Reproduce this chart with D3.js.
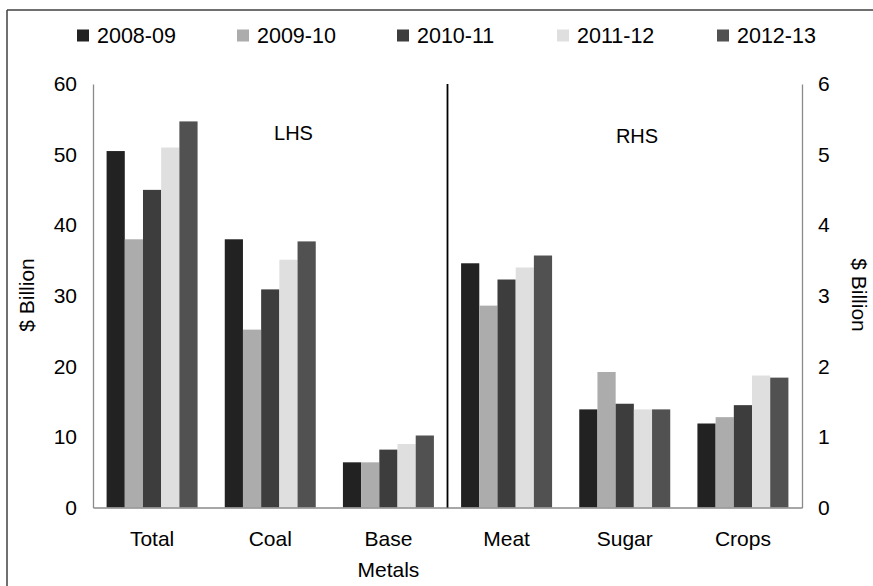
<!DOCTYPE html>
<html>
<head>
<meta charset="utf-8">
<script src="https://cdn.jsdelivr.net/npm/d3@7"></script>
<style>
  html, body { margin: 0; padding: 0; background: #fff; }
  svg { display: block; font-family: "Liberation Sans", Arial, sans-serif; }
</style>
</head>
<body>
<svg id="chart" width="873" height="586"></svg>
<script>
// ---- data ----
const leftCategories = ["Total", "Coal", "Base Metals"];
const rightCategories = ["Meat", "Sugar", "Crops"];
const seriesNames = ["2008-09", "2009-10", "2010-11", "2011-12", "2012-13"];
const seriesColors = ["#222222", "#acacac", "#3d3d3d", "#dfdfdf", "#515151"];
// LHS values ($ billion), per series, for Total, Coal, Base Metals
const lhs2008 = [50.5, 38.0, 6.4];
const lhs2009 = [38.0, 25.2, 6.4];
const lhs2010 = [45.0, 30.9, 8.2];
const lhs2011 = [51.0, 35.1, 9.0];
const lhs2012 = [54.7, 37.7, 10.2];
// RHS values ($ billion), per series, for Meat, Sugar, Crops
const rhs2008 = [3.46, 1.39, 1.19];
const rhs2009 = [2.86, 1.92, 1.28];
const rhs2010 = [3.23, 1.47, 1.45];
const rhs2011 = [3.40, 1.39, 1.87];
const rhs2012 = [3.57, 1.39, 1.84];
const leftTicks = [0, 10, 20, 30, 40, 50, 60];
const rightTicks = [0, 1, 2, 3, 4, 5, 6];

const lhsSeries = [lhs2008, lhs2009, lhs2010, lhs2011, lhs2012];
const rhsSeries = [rhs2008, rhs2009, rhs2010, rhs2011, rhs2012];

// ---- layout ----
const svg = d3.select("#chart");
const plotLeft = 93, plotRight = 802, plotTop = 84, plotBottom = 507.5;
const fontSize = 21;

const allCats = leftCategories.concat(rightCategories);
const x = d3.scaleBand().domain(allCats).range([plotLeft, plotRight])
  .paddingInner(0.23).paddingOuter(0.115);
const xs = d3.scaleBand().domain(seriesNames).range([0, x.bandwidth()]).padding(0);
const yL = d3.scaleLinear().domain([0, 60]).range([plotBottom, plotTop]);
const yR = d3.scaleLinear().domain([0, 6]).range([plotBottom, plotTop]);

// frame
svg.append("line").attr("x1", 7).attr("x2", 873).attr("y1", 10).attr("y2", 10)
  .attr("stroke", "#404040").attr("stroke-width", 1.5);
svg.append("line").attr("x1", 7).attr("x2", 7).attr("y1", 10).attr("y2", 586)
  .attr("stroke", "#404040").attr("stroke-width", 1.5);

// bars
function drawBars(cats, seriesArr, yScale) {
  seriesArr.forEach((vals, si) => {
    svg.append("g").selectAll("rect").data(cats.map((c, i) => ({c, v: vals[i]})))
      .join("rect")
      .attr("x", d => x(d.c) + xs(seriesNames[si]))
      .attr("width", xs.bandwidth())
      .attr("y", d => yScale(d.v))
      .attr("height", d => yScale(0) - yScale(d.v))
      .attr("fill", seriesColors[si]);
  });
}
drawBars(leftCategories, lhsSeries, yL);
drawBars(rightCategories, rhsSeries, yR);

// axes
const axL = svg.append("g").attr("transform", `translate(${plotLeft},0)`)
  .call(d3.axisLeft(yL).tickValues(leftTicks).tickSize(0).tickPadding(16).tickFormat(d3.format("d")));
const axR = svg.append("g").attr("transform", `translate(${plotRight},0)`)
  .call(d3.axisRight(yR).tickValues(rightTicks).tickSize(0).tickPadding(16).tickFormat(d3.format("d")));
const axB = svg.append("g").attr("transform", `translate(0,${plotBottom})`)
  .call(d3.axisBottom(x).tickSize(0).tickFormat(() => ""));
[axL, axR, axB].forEach(a => {
  a.select(".domain").attr("stroke", "#8a8a8a").attr("stroke-width", 1.3);
  a.selectAll("text").attr("font-size", fontSize).attr("fill", "#000")
    .attr("font-family", "Liberation Sans, Arial, sans-serif");
});

// category labels (wrapped)
allCats.forEach(c => {
  const words = c.split(" ");
  const t = svg.append("text").attr("text-anchor", "middle")
    .attr("font-size", fontSize).attr("fill", "#000");
  words.forEach((w, i) => {
    t.append("tspan").attr("x", x(c) + x.bandwidth() / 2)
      .attr("y", 546 + i * 30.5).text(w);
  });
});

// divider
const divX = (x("Base Metals") + x.bandwidth() + x("Meat")) / 2;
svg.append("line").attr("x1", divX).attr("x2", divX)
  .attr("y1", plotTop).attr("y2", plotBottom)
  .attr("stroke", "#000").attr("stroke-width", 1.8);

// LHS / RHS labels
svg.append("text").attr("x", 293.5).attr("y", 140).attr("text-anchor", "middle")
  .attr("font-size", 20).text("LHS");
svg.append("text").attr("x", 637).attr("y", 143).attr("text-anchor", "middle")
  .attr("font-size", 20).text("RHS");

// axis titles
svg.append("text").attr("transform", "translate(34,295) rotate(-90)")
  .attr("text-anchor", "middle").attr("font-size", fontSize).text("$ Billion");
svg.append("text").attr("transform", "translate(852,295) rotate(90)")
  .attr("text-anchor", "middle").attr("font-size", fontSize).text("$ Billion");

// legend
const legend = svg.append("g");
seriesNames.forEach((s, i) => {
  const lx = 77 + i * 160;
  legend.append("rect").attr("x", lx).attr("y", 29.5).attr("width", 12).attr("height", 12)
    .attr("fill", seriesColors[i]);
  legend.append("text").attr("x", lx + 20).attr("y", 43).attr("font-size", 21.5)
    .attr("fill", "#000").text(s);
});
</script>
</body>
</html>
